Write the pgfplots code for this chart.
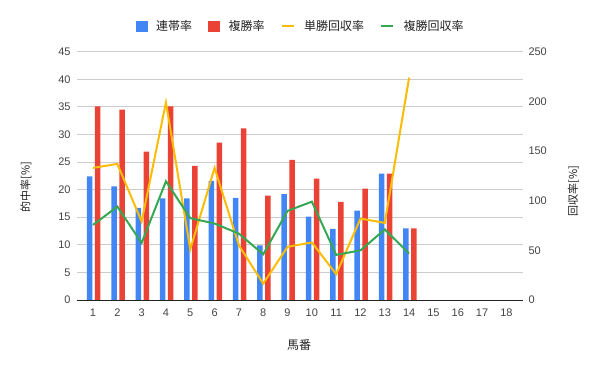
\documentclass[border=0pt]{standalone}
\usepackage{pgfplots}
\usepackage{pgfplotstable}
\pgfplotsset{compat=1.18}
\usepackage{fontspec}
\setmainfont{Liberation Sans}
\newfontfamily\cjk{Noto Sans CJK JP}
\definecolor{cblue}{HTML}{4285F4}
\definecolor{cred}{HTML}{EA4335}
\definecolor{cyellow}{HTML}{FBBC04}
\definecolor{cgreen}{HTML}{34A853}
\definecolor{cgrid}{HTML}{CCCCCC}
\definecolor{ctick}{HTML}{444444}
\definecolor{ctext}{HTML}{222222}
\pgfplotstableread{
x ren fuku tan fkr
1 22.4 35.1 133 75.6
2 20.6 34.5 137 94
3 16.7 26.9 79 57.5
4 18.4 35.1 199 119.5
5 18.4 24.3 51 82.4
6 21.6 28.5 133 77
7 18.5 31.1 55 66.8
8 9.9 18.9 16.5 46
9 19.2 25.4 53.5 89.7
10 15.1 22.0 58 99
11 12.9 17.8 26 45.4
12 16.2 20.2 82 50
13 22.9 22.9 77.6 71
14 13.0 13.0 224 46.7
}\data
\pgfplotsset{common/.style={
  scale only axis, width=446pt, height=248.3pt,
  xmin=0.33, xmax=18.67,
  at={(76.7pt,71pt)}, anchor=south west,
  major tick length=0pt,
  /pgf/number format/assume math mode=true,
  ticklabel style={font=\fontsize{11}{11}\selectfont, text=ctick},
}}
\begin{document}
\begin{tikzpicture}
\useasboundingbox (0,0) rectangle (600pt,371pt);
\begin{axis}[common,
  ymin=0, ymax=45, ytick={0,5,...,45},
  xtick={1,...,18},
  ymajorgrids, grid style={cgrid, line width=0.8pt},
  axis x line*=bottom, axis y line*=left,
  y axis line style={draw=none},
  x axis line style={-, draw=ctext, line width=0.9pt},
  yticklabel style={anchor=east, inner sep=0pt, xshift=-6pt},
  xticklabel style={anchor=north, inner sep=0pt, yshift=-9pt},
]
\addplot[ybar, bar width=5.5pt, bar shift=-3.3pt, fill=cblue, draw=none] table[x=x,y=ren]{\data};
\addplot[ybar, bar width=5.5pt, bar shift=4.7pt, fill=cred, draw=none] table[x=x,y=fuku]{\data};
\end{axis}
\begin{axis}[common,
  ymin=0, ymax=250, ytick={0,50,...,250},
  axis y line*=right, axis x line=none,
  y axis line style={draw=none},
  yticklabel style={anchor=west, inner sep=0pt, xshift=5.6pt},
  legend columns=4,
  legend style={at={(0.5,1)}, anchor=center, yshift=25.7pt, draw=none, fill=none,
    font=\cjk\fontsize{12}{12}\selectfont, text=ctext, inner sep=0pt,
    nodes={inner sep=0pt},
    /tikz/every odd column/.append style={column sep=9pt},
    /tikz/every even column/.append style={column sep=16pt}},
]
\addlegendimage{legend image code/.code={\fill[cblue] (0pt,-5pt) rectangle (11pt,5pt);}}
\addlegendimage{legend image code/.code={\fill[cred] (0pt,-5pt) rectangle (11pt,5pt);}}
\addplot[cyellow, line width=2pt, no marks,
  legend image code/.code={\draw[cyellow, line width=2.5pt] (0pt,0pt) -- (12pt,0pt);}] table[x=x,y=tan]{\data};
\addplot[cgreen, line width=2pt, no marks,
  legend image code/.code={\draw[cgreen, line width=2.5pt] (0pt,0pt) -- (12pt,0pt);}] table[x=x,y=fkr]{\data};
\legend{連帯率, 複勝率, 単勝回収率, 複勝回収率}
\end{axis}
\node[rotate=90, text=ctext, font=\cjk\fontsize{11}{11}\selectfont] at (26pt,184pt) {的中率[\%]};
\node[rotate=90, text=ctext, font=\cjk\fontsize{11}{11}\selectfont] at (573.5pt,180pt) {回収率[\%]};
\node[text=ctext, font=\cjk\fontsize{12}{12}\selectfont] at (299pt,26pt) {馬番};
\end{tikzpicture}
\end{document}
